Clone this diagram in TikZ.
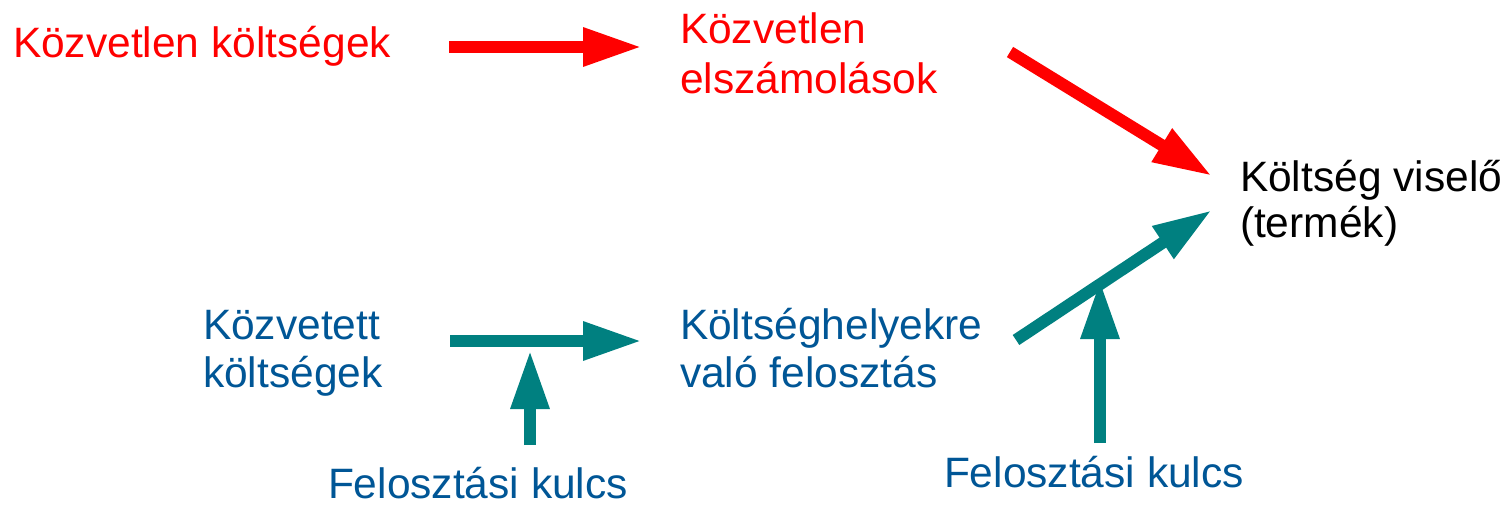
\documentclass[tikz,border=0pt]{standalone}
\usepackage{fontspec}
\setmainfont{Liberation Sans}
\usetikzlibrary{arrows.meta}
\definecolor{cred}{RGB}{255,0,0}
\definecolor{cteal}{RGB}{0,128,128}
\definecolor{cblue}{RGB}{0,86,150}
\tikzset{
  txt/.style={inner sep=0pt, outer sep=0pt, anchor=base west, align=left,
    font=\fontsize{42.5}{48}\selectfont},
  fat/.style={line width=12pt, -{Triangle[length=59pt,width=36pt]}},
}
\begin{document}
\begin{tikzpicture}[x=1pt,y=-1pt]
\useasboundingbox (0,0) rectangle (1504,511);
% texts (base anchor = baseline of the last line)
\node[txt, text=cred] (kk) at (13,58) {Közvetlen költségek};
\node[txt, text=cred, font=\fontsize{42.5}{50}\selectfont] (ke) at (680,93) {Közvetlen\\elszámolások};
\node[txt, text=black, font=\fontsize{42.5}{46}\selectfont] (kv) at (1240,237) {Költség viselő\\(termék)};
\node[txt, text=cblue] (kt) at (203,387) {Közvetett\\költségek};
\node[txt, text=cblue] (kf) at (680,387) {Költséghelyekre\\való felosztás};
\node[txt, text=cblue] (fk1) at (328,498) {Felosztási kulcs};
\node[txt, text=cblue] (fk2) at (944,487) {Felosztási kulcs};
% arrow ends
\coordinate (a1s) at (449,47);  \coordinate (a1e) at (642,47);
\coordinate (a2s) at (1010,52); \coordinate (a2e) at (1212,176);
\coordinate (a3s) at (450,341); \coordinate (a3e) at (642,341);
\coordinate (a4s) at (530,445); \coordinate (a4e) at (530,350);
\coordinate (a5s) at (1100,443); \coordinate (a5e) at (1100,280);
\coordinate (a6s) at (1016,340); \coordinate (a6e) at (1212,210);
% arrows
\draw[fat, cred] (a1s) -- (a1e);
\draw[fat, cred] (a2s) -- (a2e);
\draw[fat, cteal] (a3s) -- (a3e);
\draw[fat, cteal] (a4s) -- (a4e);
\draw[fat, cteal] (a5s) -- (a5e);
\draw[fat, cteal] (a6s) -- (a6e);
\end{tikzpicture}
\end{document}
